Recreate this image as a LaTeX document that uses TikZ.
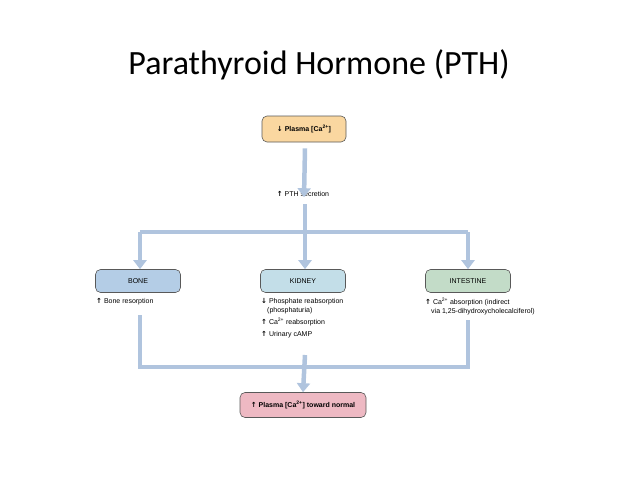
\documentclass[tikz,border=0pt]{standalone}
\usepackage{fontspec}
\setmainfont{Liberation Sans}
\newfontfamily\titlefont{Carlito}
\newfontfamily\arrfont{DejaVu Sans}
\usetikzlibrary{arrows.meta}
\definecolor{flow}{RGB}{176,196,222}
\definecolor{orangebox}{RGB}{250,215,160}
\definecolor{bonebox}{RGB}{180,205,230}
\definecolor{kidbox}{RGB}{195,222,232}
\definecolor{intbox}{RGB}{195,220,200}
\definecolor{pinkbox}{RGB}{238,185,195}
\newcommand{\up}{{\arrfont\textbf{↑}}}
\newcommand{\dn}{{\arrfont\textbf{↓}}}
\tikzset{
 flowline/.style={draw=flow,line width=4.5pt},
 flowarrow/.style={flowline,-{Triangle[width=13pt,length=9pt]}},
 organ/.style={draw=gray!70!black,rounded corners=5pt,minimum width=85pt,minimum height=23pt,font=\fontsize{7}{8}\selectfont,line width=0.6pt},
 note/.style={font=\fontsize{7}{9}\selectfont,anchor=north west,align=left,inner sep=0pt},
}
\begin{document}
\begin{tikzpicture}[x=1pt,y=-1pt]
\useasboundingbox (0,0) rectangle (638,479);
\node[font=\titlefont\fontsize{34}{40}\selectfont] (title) at (319,65) {Parathyroid Hormone (PTH)};
\node[organ,fill=orangebox,minimum width=84pt,minimum height=26pt,font=\bfseries\fontsize{7}{8}\selectfont] (plasma) at (304,129) {\dn\ Plasma [Ca\textsuperscript{2+}]};
\node[note,anchor=center] (pth) at (303,194) {\up\ PTH secretion};
\coordinate (jt) at (305,232);
\coordinate (jl) at (140,232);
\coordinate (jr) at (468,232);
\node[organ,fill=bonebox] (bone) at (138,281) {BONE};
\node[organ,fill=kidbox] (kidney) at (303,281) {KIDNEY};
\node[organ,fill=intbox] (intestine) at (468,281) {INTESTINE};
\node[note] (bt) at (96,298) {\up\ Bone resorption};
\node[note] (kt) at (261,298) {\dn\ Phosphate reabsorption\\ \hspace*{6pt}(phosphaturia)\\[3pt] \up\ Ca\textsuperscript{2+} reabsorption\\[3pt] \up\ Urinary cAMP};
\node[note] (it) at (425,298) {\up\ Ca\textsuperscript{2+} absorption (indirect\\ \hspace*{6pt}via 1,25-dihydroxycholecalciferol)};
\node[organ,fill=pinkbox,minimum width=126pt,minimum height=25pt,font=\bfseries\fontsize{7}{8}\selectfont] (final) at (303,405) {\up\ Plasma [Ca\textsuperscript{2+}] toward normal};
\coordinate (bl) at (140,367);
\coordinate (br) at (468,367);
\draw[flowarrow] (plasma.south) ++(1,6) -- ([yshift=-6pt]pth.north -| plasma.south);
\draw[flowline] (305,204) -- (jt);
\draw[flowline] (jl) -- (jr);
\draw[flowarrow] ([xshift=-2.2pt]jl) -- ++(0,0) (jl) -- (jl |- bone.north);
\draw[flowarrow] (jt) -- (jt |- kidney.north);
\draw[flowarrow] (jr) -- (jr |- intestine.north);
\draw[flowline] (140,315) -- (bl) -- (br) -- (468,320);
\draw[flowarrow] (305,355) -- (final.north);
\end{tikzpicture}
\end{document}
